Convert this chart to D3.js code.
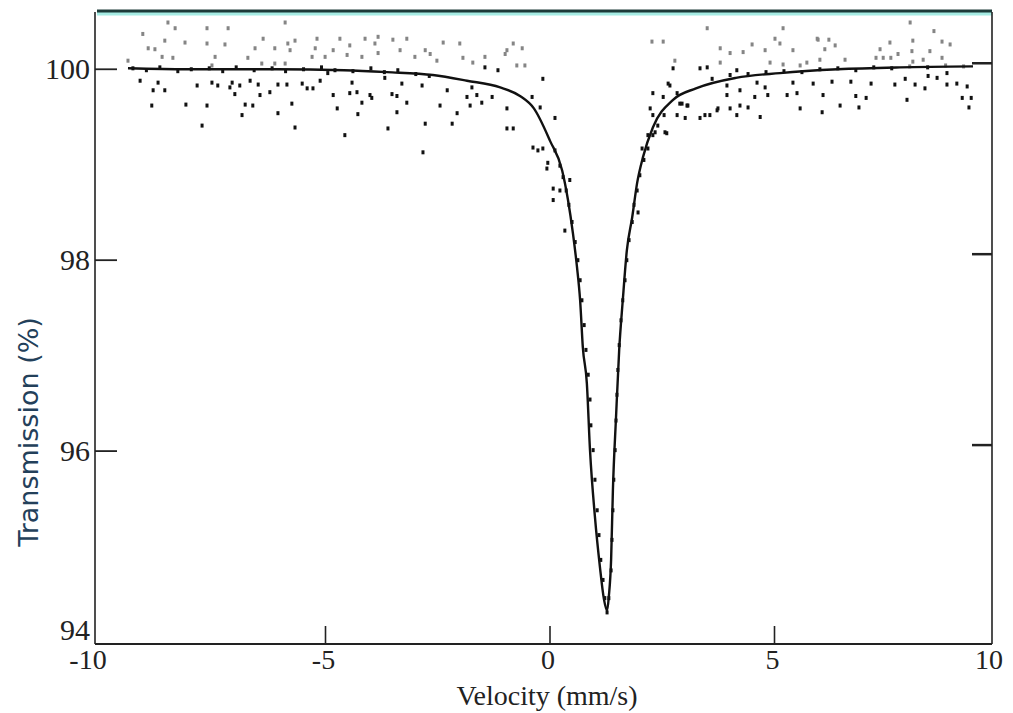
<!DOCTYPE html>
<html>
<head>
<meta charset="utf-8">
<script src="https://cdn.jsdelivr.net/npm/d3@7"></script>
<style>
  body { margin: 0; background: #fff; }
  svg { display: block; }
</style>
</head>
<body>
<script>
// velocity (mm/s), transmission (%)
var xTicks = [-10, -5, 0, 5, 10];
var yTicks = [94, 96, 98, 100];

// fitted curve
var fitV = [-9.31, -8.0, -6.0, -4.5, -3.54, -2.52, -1.76, -1.02, -0.58, -0.27, 0.09, 0.36, 0.49, 0.60, 0.69, 0.76, 0.82, 0.91, 0.98, 1.09, 1.20, 1.29, 1.36,
            1.40, 1.45, 1.49, 1.56, 1.63, 1.71, 1.80, 1.92, 2.03, 2.16, 2.38, 2.83, 3.34, 4.23, 5.21, 6.50, 7.88, 9.51];
var fitT = [100.01, 100.0, 100.0, 99.99, 99.97, 99.94, 99.88, 99.81, 99.72, 99.59, 99.25, 98.94, 98.63, 98.28, 97.93, 97.58, 97.09, 96.71, 96.01, 95.31, 94.79, 94.45, 94.33,
            94.48, 94.86, 95.59, 96.36, 97.06, 97.58, 98.10, 98.45, 98.81, 99.08, 99.39, 99.68, 99.80, 99.91, 99.96, 100.00, 100.02, 100.03];

// measured points, left baseline
var leftPts = [
  [-8.26,100.43],[-7.55,100.43],[-7.08,100.43],[-8.42,100.49],[-5.81,100.49],[-8.98,100.37],[-8.49,100.30],[-8.04,100.28],
  [-7.55,100.27],[-7.15,100.26],[-6.30,100.32],[-5.75,100.27],[-5.59,100.30],[-8.86,100.22],[-8.71,100.21],[-6.48,100.22],
  [-6.04,100.22],[-5.70,100.20],[-9.31,100.09],[-8.55,100.13],[-8.31,100.12],[-7.37,100.13],[-6.64,100.12],[-7.44,100.04],
  [-6.33,100.06],[-6.04,100.06],[-5.81,100.06],
  [-9.04,99.88],[-8.64,99.86],[-7.77,99.83],[-7.44,99.86],[-7.31,99.83],[-6.99,99.86],[-6.82,99.83],[-6.59,99.88],
  [-6.41,99.84],[-5.97,99.84],[-5.77,99.84],[-5.43,99.85],[-8.75,99.78],[-8.49,99.78],[-7.04,99.81],[-6.93,99.74],
  [-6.37,99.73],[-6.15,99.76],[-8.78,99.62],[-8.02,99.63],[-7.55,99.62],[-6.70,99.63],[-6.53,99.62],[-5.66,99.64],
  [-6.77,99.52],[-5.97,99.54],[-7.66,99.41],[-5.59,99.39],
  [-5.10,100.32],[-4.59,100.32],[-4.03,100.32],[-3.74,100.34],[-3.41,100.31],[-3.10,100.32],[-2.29,100.28],[-1.92,100.27],
  [-5.14,100.22],[-4.74,100.20],[-4.37,100.25],[-3.81,100.27],[-3.25,100.20],[-2.69,100.20],[-5.21,100.13],[-4.92,100.13],
  [-4.43,100.15],[-4.10,100.13],[-3.74,100.17],[-2.92,100.13],[-2.58,100.16],[-2.43,100.09],[-1.85,100.12],[-1.63,100.07],
  [-1.36,100.13],[-1.36,100.02],[-0.91,100.16],[-1.07,99.99],
  [-5.32,99.80],[-5.19,99.80],[-5.03,99.88],[-4.86,99.96],[-4.32,99.86],[-3.59,99.91],[-3.21,99.85],[-2.76,99.83],
  [-2.20,99.78],[-1.65,99.81],[-4.74,99.73],[-4.37,99.75],[-4.21,99.76],[-3.92,99.73],[-3.43,99.74],[-3.32,99.72],
  [-1.76,99.71],[-1.54,99.73],[-1.20,99.71],[-4.10,99.65],[-3.88,99.70],[-3.10,99.65],[-2.36,99.62],[-1.69,99.62],
  [-1.43,99.65],[-0.87,99.59],[-4.65,99.59],[-3.32,99.55],[-1.98,99.54],[-4.19,99.53],[-2.69,99.43],[-2.09,99.43],
  [-3.52,99.38],[-0.87,99.38],[-4.48,99.31],[-2.74,99.13],
  [-9.2,100.01],[-8.9,99.99],[-8.6,100.02],[-8.2,99.98],[-7.9,100.00],[-7.5,100.01],[-7.2,99.98],[-6.9,100.02],
  [-6.5,99.99],[-6.1,100.01],[-5.8,99.98],[-5.4,100.00],[-5.0,100.02],[-4.7,99.99],[-4.3,99.98],[-3.9,100.01],
  [-3.6,99.97],[-3.3,99.99],[-2.9,99.95],[-2.6,99.93]
];

// measured points, absorption line
var dipPts = [
  [-0.73,100.27],[-0.87,100.20],[-0.53,100.22],[-0.65,100.04],[-0.47,100.04],[-0.07,99.90],[-0.73,99.38],[-0.31,99.71],
  [-0.13,99.60],[0.20,99.49],[-0.29,99.18],[-0.07,99.17],[0.04,99.02],[0.16,98.75],
  [0.20,99.15],[0.31,98.99],[0.38,98.87],[0.45,98.73],[0.51,98.58],[0.58,98.40],[0.65,98.19],[0.71,98.00],
  [0.76,97.79],[0.80,97.58],[0.85,97.32],[0.89,97.06],[0.94,96.80],[0.98,96.54],[1.00,96.27],[1.05,96.01],
  [1.09,95.70],[1.14,95.38],[1.18,95.12],[1.22,94.86],[1.27,94.65],[1.31,94.46],[1.36,94.31],
  [-0.18,99.15],[0.02,98.96],[0.16,98.63],[0.42,98.31],[0.53,98.84],[0.31,98.73],
  [1.40,94.46],[1.45,94.75],[1.47,95.07],[1.49,95.38],[1.51,95.70],[1.54,96.01],[1.56,96.32],[1.58,96.59],
  [1.60,96.85],[1.63,97.11],[1.67,97.37],[1.71,97.58],[1.76,97.79],[1.80,98.00],[1.85,98.21],[1.92,98.40],
  [1.96,98.58],[2.03,98.73],[2.09,98.89],[2.18,99.05],[2.27,99.17],[2.38,99.31],[2.49,99.41],[2.63,99.52],
  [2.14,99.17],[2.27,99.31],[2.05,98.50],[2.69,99.33],[2.32,99.59],[2.61,99.71],[2.76,99.83],[2.98,99.64],
  [3.14,99.62],[3.43,99.49],[3.83,99.59],[4.25,99.52],[4.77,99.50]
];

// measured points, right baseline
var rightPts = [
  [3.59,100.43],[2.61,100.29],[5.28,100.43],[4.59,100.26],[5.10,100.32],[5.21,100.27],[6.04,100.32],[3.88,100.22],
  [4.10,100.17],[4.39,100.18],[4.88,100.20],[5.50,100.20],[2.87,100.09],[3.88,100.07],[4.99,100.07],[5.81,100.07],
  [2.83,100.01],[3.43,100.01],[3.59,100.02],[4.25,99.99],[5.28,100.05],[5.66,100.04],[2.36,100.29],
  [2.72,99.85],[4.03,99.83],[4.70,99.86],[4.88,99.81],[5.50,99.86],[5.95,99.85],[2.38,99.75],[2.92,99.75],
  [4.03,99.73],[4.32,99.78],[4.65,99.71],[4.94,99.73],[5.37,99.73],[5.59,99.75],[3.03,99.64],[3.16,99.62],
  [3.81,99.57],[4.10,99.59],[4.32,99.62],[4.50,99.60],[5.66,99.59],[2.38,99.52],[2.92,99.52],[3.10,99.49],
  [3.54,99.52],[3.65,99.52],[2.65,99.34],[2.43,99.34],
  [8.11,100.49],[8.64,100.40],[6.06,100.31],[6.30,100.31],[7.66,100.28],[8.17,100.30],[8.82,100.29],[9.00,100.26],
  [6.44,100.25],[6.21,100.21],[7.44,100.21],[8.15,100.19],[8.55,100.19],[6.10,100.10],[6.66,100.10],[7.35,100.12],
  [7.51,100.12],[7.68,100.12],[7.84,100.16],[8.17,100.08],[8.40,100.10],[8.82,100.12],
  [6.37,99.87],[6.79,99.87],[7.24,99.85],[7.77,99.84],[8.00,99.90],[8.22,99.84],[8.44,99.80],[8.51,99.93],
  [8.71,99.91],[8.93,99.84],[9.15,99.85],[9.38,99.82],[6.17,99.73],[6.90,99.72],[7.13,99.70],[8.04,99.68],
  [9.27,99.70],[9.47,99.70],[6.55,99.62],[6.97,99.60],[9.42,99.60],[6.15,99.55],[8.93,99.96],
  [3.7,99.90],[4.1,99.94],[4.5,99.95],[4.9,99.97],[5.3,99.98],[5.7,99.97],[6.1,100.00],[6.5,100.01],
  [6.9,99.99],[7.3,100.02],[7.7,100.01],[8.1,100.03],[8.5,100.02],[8.9,100.04],[9.3,100.03]
];

var width = 1013, height = 713;

var x = d3.scaleLinear().domain([-10, 10]).range([97, 995]);
var y = d3.scaleLinear().domain([94, 100.6]).range([642, 12]);

var svg = d3.select("body").append("svg")
    .attr("width", width)
    .attr("height", height);

// frame
var x0 = x(-10), x1 = x(10) - 3, yb = y(94), yt = y(100.6);
svg.append("line").attr("x1", x0).attr("y1", yt + 1).attr("x2", x1).attr("y2", yt + 1)
    .attr("stroke", "#a6ece4").attr("stroke-width", 5);
svg.append("line").attr("x1", x0).attr("y1", yt - 1).attr("x2", x1).attr("y2", yt - 1)
    .attr("stroke", "#1d3b39").attr("stroke-width", 3);
svg.append("line").attr("x1", x0 - 2).attr("y1", yt).attr("x2", x0 - 2).attr("y2", yb + 2)
    .attr("stroke", "#222").attr("stroke-width", 1.6);
svg.append("line").attr("x1", x0 - 2).attr("y1", yb + 2).attr("x2", x1).attr("y2", yb + 2)
    .attr("stroke", "#222").attr("stroke-width", 1.8);
svg.append("line").attr("x1", x1).attr("y1", yt).attr("x2", x1).attr("y2", yb + 2)
    .attr("stroke", "#222").attr("stroke-width", 1.6);

// left ticks + labels
var font = "'Liberation Serif', 'Times New Roman', serif";
yTicks.forEach(function(t) {
  if (t > 94) {
    svg.append("line").attr("x1", x0 - 2).attr("x2", x0 + 20).attr("y1", y(t)).attr("y2", y(t))
        .attr("stroke", "#222").attr("stroke-width", 1.8);
    svg.append("line").attr("x1", x1 - 20).attr("x2", x1).attr("y1", y(t) - 6).attr("y2", y(t) - 6)
        .attr("stroke", "#222").attr("stroke-width", 2.5);
  }
  svg.append("text")
      .attr("x", x0 - 7)
      .attr("y", t == 94 ? yb - 2 : y(t) + 10)
      .attr("text-anchor", "end")
      .style("font-family", font).style("font-size", "30px").style("fill", "#222")
      .text(t);
});

// bottom ticks + labels
xTicks.forEach(function(t) {
  if (t > -10 && t < 10) {
    svg.append("line").attr("x1", x(t) + 4).attr("x2", x(t) + 4).attr("y1", yb + 2).attr("y2", yb - 16)
        .attr("stroke", "#222").attr("stroke-width", 1.6);
  }
  svg.append("text")
      .attr("x", t == -10 ? x(t) - 9 : (t == 10 ? x(t) - 6 : x(t) + 2))
      .attr("y", yb + 27)
      .attr("text-anchor", "middle")
      .style("font-family", font).style("font-size", "28px").style("fill", "#222")
      .text(t);
});

svg.append("text")
    .attr("x", 547).attr("y", 705)
    .attr("text-anchor", "middle")
    .style("font-family", font).style("font-size", "28px").style("fill", "#222")
    .text("Velocity (mm/s)");

svg.append("text")
    .attr("transform", "translate(38,432) rotate(-90)")
    .attr("text-anchor", "middle")
    .style("font-family", "'DejaVu Sans', sans-serif").style("font-size", "27px").style("fill", "#23405a")
    .text("Transmission (%)");

// data points
var pts = leftPts.concat(dipPts, rightPts);
svg.append("g").selectAll("rect")
    .data(pts)
  .enter().append("rect")
    .attr("x", function(d) { return x(d[0]) - 1.5; })
    .attr("y", function(d) { return y(d[1]) - 2; })
    .attr("width", 3)
    .attr("height", 4)
    .style("fill", function(d) { return d[1] > 100.02 ? "#858585" : "#111"; });

// fit line
var fit = fitV.map(function(v, i) { return [v, fitT[i]]; });
svg.append("path")
    .datum(fit)
    .attr("d", d3.line().x(function(d) { return x(d[0]); }).y(function(d) { return y(d[1]); }).curve(d3.curveMonotoneX))
    .attr("fill", "none")
    .attr("stroke", "#111")
    .attr("stroke-width", 2.4);
</script>
</body>
</html>
